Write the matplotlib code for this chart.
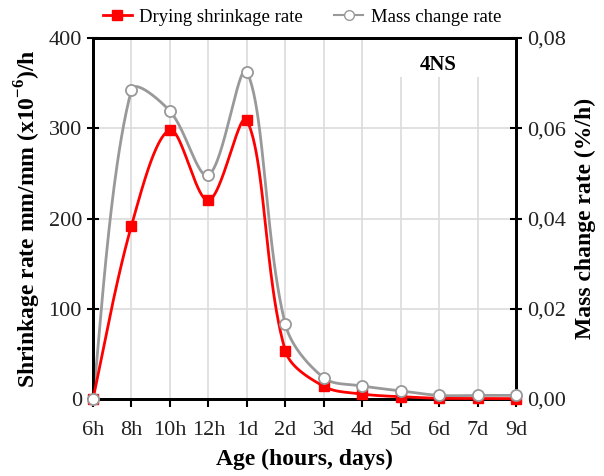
import numpy as np
import matplotlib
matplotlib.use("Agg")
import matplotlib.pyplot as plt
from matplotlib.lines import Line2D
from matplotlib.patches import Rectangle

plt.rcParams['font.family'] = ['Liberation Serif', 'DejaVu Serif']
plt.rcParams['mathtext.fontset'] = 'custom'
plt.rcParams['mathtext.rm'] = 'Liberation Serif'
plt.rcParams['mathtext.bf'] = 'Liberation Serif:bold'

categories = ['6h', '8h', '10h', '12h', '1d', '2d', '3d', '4d', '5d', '6d', '7d', '9d']
shrinkage = [0, 192, 298, 220, 309, 53.5, 14, 5.5, 2.5, 0.8, 0.6, 0.4]
mass = [0, 0.0685, 0.0638, 0.0496, 0.0725, 0.0166, 0.0047, 0.0029, 0.0018, 0.0008, 0.0008, 0.0008]

W_PX, H_PX = 423.0, 361.0


def smooth(x, y, ymax, n=50):
    # Excel-like smoothed line: cubic bezier, tangent from neighbours,
    # split between the two sides in proportion to the chord lengths (screen space)
    x = np.asarray(x, float)
    y = np.asarray(y, float)
    P = np.column_stack([x / (len(x) - 1) * W_PX, y / ymax * H_PX])
    N = len(P)
    cout, cin = [None] * N, [None] * N
    for i in range(N):
        a = P[max(i - 1, 0)]
        b = P[min(i + 1, N - 1)]
        d = b - a
        Lb = np.linalg.norm(P[i] - a)
        La = np.linalg.norm(b - P[i])
        if i == 0 or i == N - 1:
            cout[i] = P[i] + d / 6 if i == 0 else None
            cin[i] = P[i] - d / 6 if i == N - 1 else None
            continue
        s = La + Lb
        cout[i] = P[i] + d * (La / s) / 3
        cin[i] = P[i] - d * (Lb / s) / 3
    t = np.linspace(0, 1, n)
    out = []
    for i in range(N - 1):
        p0, p3 = P[i], P[i + 1]
        c1, c2 = cout[i], cin[i + 1]
        b = ((1 - t) ** 3)[:, None] * p0 + (3 * (1 - t) ** 2 * t)[:, None] * c1 + \
            (3 * (1 - t) * t ** 2)[:, None] * c2 + (t ** 3)[:, None] * p3
        out.append(b)
    B = np.vstack(out)
    return B[:, 0] / W_PX * (len(x) - 1), B[:, 1] / H_PX * ymax


fig = plt.figure(figsize=(6.04, 4.76), dpi=100)
ax = fig.add_axes([93 / 604, 1 - 399 / 476, 423 / 604, 361 / 476])
ax2 = ax.twinx()

x = np.arange(len(categories))

ax.set_axisbelow(True)
ax.grid(True, color='#dcdcdc', linewidth=1.2)
ax.add_patch(Rectangle((7.45, 357), 3.1, 50, facecolor='white', edgecolor='none', zorder=1))

sx, sy = smooth(x, shrinkage, 400)
ax2.plot(sx, np.array(sy) * 0.08 / 400, color='#ff0000', linewidth=2, zorder=3, clip_on=False)
ax2.plot(x, np.array(shrinkage) * 0.08 / 400, linestyle='none', marker='s', markersize=7.5,
         color='#ff0000', zorder=4, clip_on=False)

sx, sy = smooth(x, mass, 0.08)
ax2.plot(sx, sy, color='#999999', linewidth=2, zorder=2.5, clip_on=False)
ax2.plot(x, mass, linestyle='none', marker='o', markersize=8, markerfacecolor='white',
         markeredgecolor='#999999', markeredgewidth=1.3, zorder=5, clip_on=False)

ax.set_xlim(0, len(categories) - 1)
ax.set_ylim(0, 400)
ax2.set_ylim(0, 0.08)
ax.set_xticks(x)
ax.set_xticklabels(categories)
ax.set_yticks([0, 100, 200, 300, 400])
ax2.set_yticks([0, 0.02, 0.04, 0.06, 0.08])
ax2.set_yticklabels(['0,00', '0,02', '0,04', '0,06', '0,08'])

for a in (ax, ax2):
    for s in a.spines.values():
        s.set_linewidth(2)
        s.set_color('black')
ax.tick_params(axis='both', labelsize=16, width=1.5, length=6, direction='out', labelcolor='#222222')
ax.tick_params(axis='x', pad=10)
ax2.tick_params(axis='y', labelsize=16, width=1.5, length=8, direction='inout', pad=4, labelcolor='#222222')
ax.tick_params(axis='y', length=8, direction='inout', pad=4)

ax.set_xlabel('Age (hours, days)', fontsize=17, fontweight='bold', labelpad=6)
ax.set_ylabel('Shrinkage rate mm/mm (x10$^{\\mathbf{-6}}$)/h', fontsize=17, fontweight='bold', labelpad=4)
ax2.set_ylabel('Mass change rate (%/h)', fontsize=17, fontweight='bold', labelpad=6)

ax2.text(0.815, 0.925, '4NS', transform=ax2.transAxes, ha='center', va='center',
         fontsize=15, fontweight='bold', zorder=10)

handles = [Line2D([], [], color='#ff0000', linewidth=2, marker='s', markersize=7),
           Line2D([], [], color='#999999', linewidth=1.5, marker='o', markersize=7,
                  markerfacecolor='white', markeredgecolor='#999999')]
fig.legend(handles, ['Drying shrinkage rate', 'Mass change rate'], loc='center',
           bbox_to_anchor=(302 / 604, 1 - 17 / 476), ncol=2, frameon=False, fontsize=13.5,
           handlelength=1.55, columnspacing=1.65, handletextpad=0.4, borderpad=0, borderaxespad=0)

fig.savefig('out.png', dpi=100)
